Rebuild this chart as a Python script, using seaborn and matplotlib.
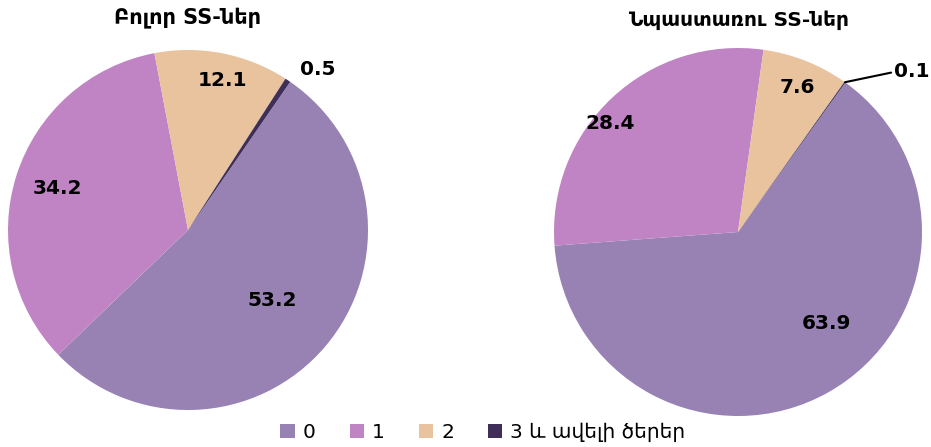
import matplotlib
matplotlib.use('Agg')

import numpy as np
import matplotlib.pyplot as plt
import seaborn as sns

# Données
categories = ["0", "1", "2", "3 և ավելի ծերեր"]
all_ss = [53.2, 34.2, 12.1, 0.5]
beneficiary_ss = [63.9, 28.4, 7.6, 0.1]
titles = ["Բոլոր SS-ներ", "Նպաստառու SS-ներ"]

sns.set_theme(style="white")
plt.rcParams['font.family'] = ['DejaVu Sans']
plt.rcParams['text.color'] = 'black'

colors = sns.color_palette(["#9882b4", "#c084c4", "#e8c39e", "#3f2f58"])

fig = plt.figure(figsize=(9.31, 4.47), dpi=100)
ax_left = fig.add_axes([8 / 931, 37 / 447, 360 / 931, 360 / 447])
ax_right = fig.add_axes([554 / 931, 31 / 447, 368 / 931, 368 / 447])


def draw_pie(ax, values, start, label_pos, outside):
    # label_pos : (rayon, décalage d'angle en degrés) pour chaque part
    wedges, _ = ax.pie(values, colors=colors, startangle=start, counterclock=False,
                       radius=1, wedgeprops=dict(linewidth=0))
    for i, (w, v) in enumerate(zip(wedges, values)):
        mid = (w.theta1 + w.theta2) / 2
        if i in outside:
            xt, yt, line = outside[i]
            if line:
                m = np.deg2rad(mid)
                ax.annotate(f"{v}", xy=(np.cos(m), np.sin(m)), xytext=(xt, yt),
                            fontsize=14.5, fontweight='bold', ha='left', va='center',
                            arrowprops=dict(arrowstyle='-', color='black', lw=1.5,
                                            shrinkA=0, shrinkB=0,
                                            relpos=(0, 0.5)),
                            annotation_clip=False)
            else:
                ax.text(xt, yt, f"{v}", fontsize=14.5, fontweight='bold',
                        ha='center', va='center')
        else:
            r, off = label_pos[i]
            a = np.deg2rad(mid + off)
            ax.text(r * np.cos(a), r * np.sin(a), f"{v}", fontsize=14.5,
                    fontweight='bold', ha='center', va='center')
    ax.set_xlim(-1, 1)
    ax.set_ylim(-1, 1)
    ax.set_aspect('equal')
    ax.axis('off')
    return wedges


wedges = draw_pie(ax_left, all_ss, 55.4, [(0.61, 0.6), (0.76, 0), (0.85, -2)],
                  {3: (0.72, 0.89, False)})
draw_pie(ax_right, beneficiary_ss, 54.3, [(0.69, 14.7), (0.91, 6.6), (0.85, -0.7)],
         {3: (0.85, 0.87, True)})

fig.text(188 / 931, 1 - 18 / 447, titles[0], fontsize=15, fontweight='bold',
         ha='center', va='center')
fig.text(738 / 931, 1 - 20 / 447, titles[1], fontsize=14.5, fontweight='bold',
         ha='center', va='center')

fig.legend(wedges, categories, loc='center', bbox_to_anchor=(483 / 931, 1 - 432 / 447),
           ncol=4, frameon=False, fontsize=14.5, handlelength=0.7, handleheight=0.7,
           handletextpad=0.4, columnspacing=1.7, borderpad=0)

fig.savefig("out.png", dpi=100)
plt.close(fig)
